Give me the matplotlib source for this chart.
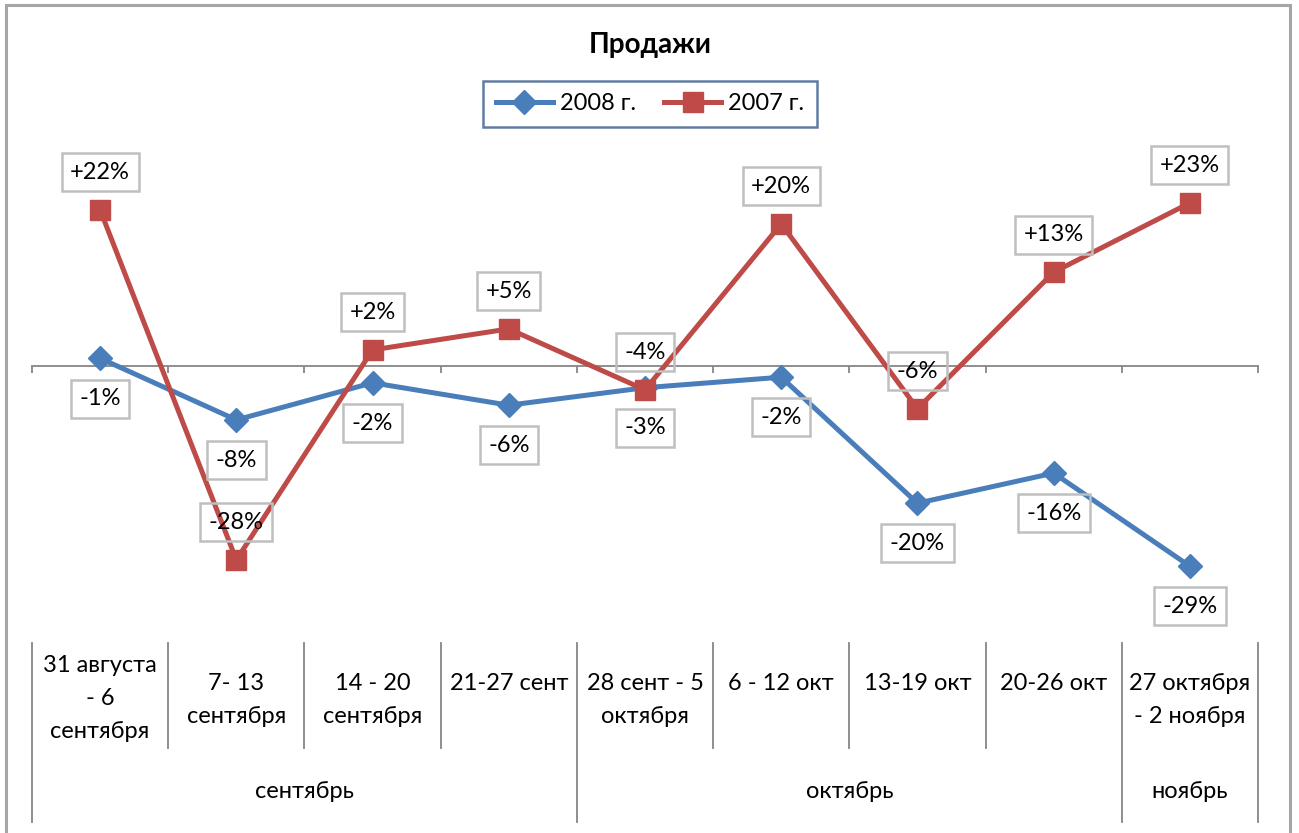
import matplotlib.pyplot as plt
from matplotlib.patches import Rectangle

plt.rcParams['font.family'] = ['Lato', 'DejaVu Sans']

# data (percent change)
weeks = ["31 августа\n- 6\nсентября", "7- 13\nсентября", "14 - 20\nсентября",
         "21-27 сент", "28 сент - 5\nоктября", "6 - 12 окт", "13-19 окт",
         "20-26 окт", "27 октября\n- 2 ноября"]
months = ["сентябрь", "октябрь", "ноябрь"]
month_spans = [(0, 3), (4, 7), (8, 8)]  # first and last week index of each month
v2008 = [1.1, -7.7, -2.4, -5.6, -3.1, -1.6, -19.6, -15.3, -28.6]
v2007 = [22.3, -27.7, 2.3, 5.3, -3.4, 20.3, -6.1, 13.4, 23.3]
lab2008 = ["-1%", "-8%", "-2%", "-6%", "-3%", "-2%", "-20%", "-16%", "-29%"]
lab2007 = ["+22%", "-28%", "+2%", "+5%", "-4%", "+20%", "-6%", "+13%", "+23%"]

BLUE = "#4A7EBB"
RED = "#BE4B48"
GRID = "#868686"
FS = 17

W, H = 1299, 833
fig = plt.figure(figsize=(W / 100, H / 100), dpi=100)
fig.patches.append(Rectangle((6 / W, -0.01), (1290 - 6) / W, 1 - 5 / H + 0.01,
                             transform=fig.transFigure, fill=False,
                             edgecolor="#A6A6A6", lw=2.2))

top_px, bot_px = 156, 625
ax = fig.add_axes([32 / W, 1 - bot_px / H, (1258 - 32) / W, (bot_px - top_px) / H])
ax.set_xlim(-0.5, 8.5)
ax.set_ylim(-37, 30)
for s in ("top", "right", "left"):
    ax.spines[s].set_visible(False)
ax.spines["bottom"].set_position(("data", 0))
ax.spines["bottom"].set_color(GRID)
ax.spines["bottom"].set_linewidth(1.3)
ax.set_yticks([])
ax.set_xticks([i - 0.5 for i in range(10)])
ax.tick_params(axis="x", length=5, width=1.3, color=GRID, labelbottom=False)

x = list(range(len(weeks)))
ax.plot(x, v2008, color=BLUE, lw=3.6, marker="D", ms=12, label="2008 г.",
        solid_joinstyle="round", zorder=3)
ax.plot(x, v2007, color=RED, lw=3.6, marker="s", ms=14, label="2007 г.",
        solid_joinstyle="round", zorder=3)

box = dict(boxstyle="square,pad=0.36", fc="none", ec="#BFBFBF", lw=1.8)
for xi, v, t in zip(x, v2008, lab2008):
    ax.annotate(t, (xi, v), xytext=(0, -29), textcoords="offset points",
                ha="center", va="center", fontsize=FS, bbox=box, zorder=4)
for xi, v, t in zip(x, v2007, lab2007):
    ax.annotate(t, (xi, v), xytext=(0, 27), textcoords="offset points",
                ha="center", va="center", fontsize=FS, bbox=box, zorder=4)

# category table under the plot
def fy(py):
    return (bot_px - py) / (bot_px - top_px)

xt = ax.get_xaxis_transform()
month_edges = [s - 0.5 for s, _ in month_spans] + [8.5]
for b in [i - 0.5 for i in range(10)]:
    y_end = 822 if b in month_edges else 748
    ax.plot([b, b], [fy(643), fy(y_end)], transform=xt, color=GRID, lw=1.3,
            clip_on=False)
for xi, t in zip(x, weeks):
    n = t.count("\n") + 1
    ax.text(xi, fy(655 if n == 3 else 673), t, transform=xt, ha="center",
            va="top", fontsize=FS, linespacing=1.7)
for (a, b), m in zip(month_spans, months):
    ax.text((a + b) / 2, fy(792), m, transform=xt, ha="center", va="center",
            fontsize=FS)

fig.text(650 / W, 1 - 45 / H, "Продажи", ha="center", va="center",
         fontsize=20, fontweight="bold")
leg = fig.legend(loc="center", bbox_to_anchor=(650 / W, 1 - 104 / H), ncol=2,
                 fontsize=FS, frameon=True, fancybox=False, handlelength=2.4,
                 columnspacing=1.2, handletextpad=0.3, borderpad=0.55)
leg.get_frame().set_edgecolor("#385D8A")
leg.get_frame().set_linewidth(1.8)

fig.savefig("out.png", dpi=100)
